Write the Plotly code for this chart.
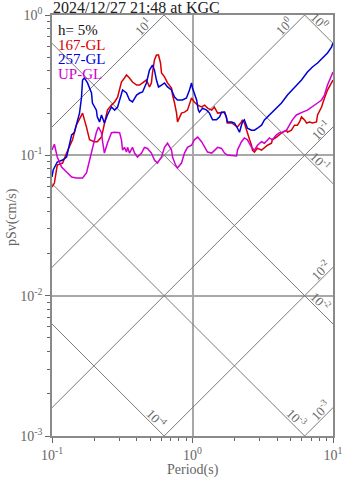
import math
import plotly.graph_objects as go

# ---------------- data ----------------
period_167 = [0.100, 0.104, 0.109, 0.119, 0.127, 0.133, 0.140, 0.149, 0.162, 0.165,
              0.176, 0.185, 0.200, 0.210, 0.225, 0.236, 0.248, 0.265, 0.279, 0.293,
              0.312, 0.328, 0.339, 0.356, 0.374, 0.400, 0.420, 0.441, 0.470, 0.494,
              0.510, 0.519, 0.536, 0.554, 0.573, 0.592, 0.602, 0.632, 0.664, 0.709,
              0.721, 0.745, 0.770, 0.782, 0.808, 0.835, 0.877, 0.921, 0.984, 1.03,
              1.09, 1.16, 1.22, 1.28, 1.37, 1.43, 1.51, 1.61, 1.69, 1.74,
              1.77, 1.90, 1.99, 2.09, 2.23, 2.27, 2.34, 2.42, 2.46, 2.55,
              2.63, 2.67, 2.76, 2.90, 3.10, 3.25, 3.42, 3.65, 3.70, 3.96,
              4.16, 4.37, 4.67, 4.74, 5.06, 5.32, 5.58, 5.78, 5.97, 6.27,
              6.48, 6.80, 7.14, 7.63, 7.76, 8.29, 8.70, 9.14, 9.75, 10.0]
psv_167 = [0.0594, 0.0634, 0.0853, 0.0881, 0.1038, 0.114, 0.129, 0.164, 0.194, 0.200,
           0.159, 0.129, 0.125, 0.125, 0.135, 0.164, 0.210, 0.228, 0.240, 0.260,
           0.333, 0.356, 0.374, 0.356, 0.333, 0.317, 0.317, 0.328, 0.344, 0.307,
           0.328, 0.387, 0.478, 0.519, 0.519, 0.455, 0.387, 0.362, 0.328, 0.302,
           0.269, 0.236, 0.200, 0.173, 0.185, 0.200, 0.203, 0.210, 0.256, 0.240,
           0.228, 0.221, 0.228, 0.217, 0.210, 0.221, 0.200, 0.203, 0.203, 0.188,
           0.170, 0.170, 0.164, 0.159, 0.173, 0.179, 0.170, 0.151, 0.140, 0.129,
           0.118, 0.109, 0.1055, 0.1125, 0.109, 0.114, 0.118, 0.122, 0.129, 0.135,
           0.140, 0.146, 0.151, 0.146, 0.151, 0.164, 0.164, 0.173, 0.188, 0.179,
           0.170, 0.173, 0.170, 0.173, 0.194, 0.221, 0.256, 0.292, 0.328, 0.344]

period_257 = [0.100, 0.102, 0.109, 0.119, 0.127, 0.133, 0.138, 0.144, 0.149, 0.157,
              0.162, 0.165, 0.170, 0.179, 0.191, 0.194, 0.207, 0.210, 0.218, 0.225,
              0.236, 0.248, 0.265, 0.279, 0.293, 0.312, 0.318, 0.339, 0.356, 0.374,
              0.400, 0.420, 0.441, 0.470, 0.494, 0.519, 0.536, 0.554, 0.573, 0.602,
              0.632, 0.664, 0.709, 0.745, 0.782, 0.849, 0.906, 0.952, 0.984, 1.00,
              1.07, 1.10, 1.12, 1.18, 1.26, 1.32, 1.39, 1.48, 1.56, 1.61,
              1.69, 1.74, 1.77, 1.90, 1.99, 2.09, 2.16, 2.23, 2.27, 2.34,
              2.42, 2.46, 2.63, 2.76, 2.90, 3.10, 3.25, 3.53, 3.83, 4.30,
              4.74, 5.32, 5.97, 6.58, 7.14, 7.76, 8.42, 9.14, 9.75, 10.0]
psv_257 = [0.0701, 0.0786, 0.0896, 0.0926, 0.0973, 0.122, 0.140, 0.145, 0.164, 0.200,
           0.256, 0.344, 0.356, 0.328, 0.278, 0.236, 0.210, 0.188, 0.173, 0.194,
           0.170, 0.194, 0.221, 0.210, 0.221, 0.278, 0.292, 0.278, 0.248, 0.240,
           0.269, 0.278, 0.283, 0.328, 0.405, 0.440, 0.405, 0.344, 0.307, 0.317,
           0.328, 0.307, 0.292, 0.260, 0.248, 0.248, 0.256, 0.292, 0.328, 0.302,
           0.248, 0.210, 0.203, 0.217, 0.210, 0.200, 0.179, 0.179, 0.188, 0.203,
           0.203, 0.188, 0.173, 0.173, 0.170, 0.156, 0.146, 0.164, 0.173, 0.179,
           0.159, 0.156, 0.151, 0.151, 0.156, 0.164, 0.179, 0.194, 0.210, 0.236,
           0.269, 0.302, 0.344, 0.392, 0.426, 0.455, 0.494, 0.536, 0.591, 0.631]

period_up = [0.100, 0.104, 0.109, 0.117, 0.127, 0.138, 0.149, 0.165, 0.176, 0.185,
             0.194, 0.207, 0.214, 0.225, 0.229, 0.236, 0.248, 0.265, 0.279, 0.293,
             0.303, 0.312, 0.318, 0.328, 0.339, 0.345, 0.356, 0.374, 0.387, 0.406,
             0.434, 0.455, 0.478, 0.510, 0.536, 0.563, 0.602, 0.632, 0.664, 0.709,
             0.721, 0.757, 0.782, 0.835, 0.877, 0.921, 0.984, 1.03, 1.09, 1.16,
             1.22, 1.28, 1.37, 1.43, 1.51, 1.61, 1.69, 1.77, 2.06, 2.09,
             2.23, 2.34, 2.46, 2.63, 2.76, 2.90, 3.10, 3.25, 3.53, 3.70,
             3.96, 4.16, 4.37, 4.67, 4.90, 5.14, 5.49, 5.78, 6.07, 6.58,
             7.14, 7.76, 8.29, 8.70, 9.14, 9.75, 10.0]
psv_up = [0.109, 0.120, 0.0973, 0.0825, 0.0760, 0.0701, 0.0689, 0.0689, 0.0748, 0.0926,
          0.114, 0.146, 0.159, 0.145, 0.125, 0.1038, 0.122, 0.145, 0.146, 0.146,
          0.145, 0.129, 0.109, 0.114, 0.1055, 0.114, 0.1038, 0.114, 0.1038, 0.0973,
          0.1038, 0.114, 0.112, 0.1038, 0.0926, 0.0881, 0.0973, 0.114, 0.122, 0.109,
          0.0973, 0.0853, 0.0812, 0.0881, 0.1038, 0.114, 0.118, 0.129, 0.135, 0.125,
          0.114, 0.1055, 0.1038, 0.109, 0.114, 0.112, 0.1038, 0.1005, 0.0989, 0.109,
          0.125, 0.133, 0.129, 0.114, 0.109, 0.118, 0.125, 0.122, 0.133, 0.129,
          0.140, 0.145, 0.146, 0.151, 0.164, 0.179, 0.194, 0.200, 0.203, 0.210,
          0.221, 0.236, 0.248, 0.269, 0.317, 0.362, 0.392]

series_names = ["167-GL", "257-GL", "UP-GL"]
series_colors = ["#d80000", "#0000d8", "#d000d0"]

disp_levels = [1e-4, 1e-3, 1e-2, 1e-1, 1]   # Sd (cm), lines of slope -1
acc_levels = [1e-3, 1e-2, 1e-1, 1, 10]      # Sa (cm/s^2), lines of slope +1

x_tick_vals = [0.1, 1, 10]
x_tick_text = ["10<sup>-1</sup>", "10<sup>0</sup>", "10<sup>1</sup>"]
y_tick_vals = [0.001, 0.01, 0.1, 1]
y_tick_text = ["10<sup>-3</sup>", "10<sup>-2</sup>", "10<sup>-1</sup>", "10<sup>0</sup>"]

title_text = "2024/12/27 21:48 at KGC"
damping_text = "h= 5%"
x_title = "Period(s)"
y_title = "pSv(cm/s)"

T_MIN, T_MAX = 0.1, 10.0
V_MIN, V_MAX = 0.001, 1.0

FONT = "Liberation Serif, Times New Roman, serif"
GRAY = "#666666"
PLOT_W = 281.0
PLOT_H = 421.0

fig = go.Figure()

# ---- tripartite diagonal lines ----
TWO_PI = 2 * math.pi
u0, u1 = math.log10(T_MIN), math.log10(T_MAX)
v0, v1 = math.log10(V_MIN), math.log10(V_MAX)
diag_style = dict(color="#7a7a7a", width=1)

def sup(e):
    return "10<sup>%d</sup>" % e

annotations = []
for sd in disp_levels:
    c = math.log10(TWO_PI * sd)           # v = c - u
    fig.add_trace(go.Scatter(x=[T_MIN, T_MAX], y=[TWO_PI * sd / T_MIN, TWO_PI * sd / T_MAX],
                             mode="lines", line=diag_style, hoverinfo="skip", showlegend=False))
    if c - u1 >= v0:
        ul = u1 - 0.09
    else:
        ul = (c - v0) - 0.055
    vl = c - ul
    annotations.append(dict(x=ul, y=vl, xref="x", yref="y", text=sup(round(math.log10(sd))),
                            showarrow=False, textangle=45, yshift=10,
                            font=dict(family=FONT, size=13, color=GRAY)))
for sa in acc_levels:
    c = math.log10(sa / TWO_PI)           # v = c + u
    fig.add_trace(go.Scatter(x=[T_MIN, T_MAX], y=[sa * T_MIN / TWO_PI, sa * T_MAX / TWO_PI],
                             mode="lines", line=diag_style, hoverinfo="skip", showlegend=False))
    if c + u1 <= v1:
        ul = u1 - 0.09
    else:
        ul = (v1 - c) - 0.15
    vl = c + ul
    annotations.append(dict(x=ul, y=vl, xref="x", yref="y", text=sup(round(math.log10(sa))),
                            showarrow=False, textangle=-45, yshift=10,
                            font=dict(family=FONT, size=13, color=GRAY)))

# ---- response spectra ----
for per, psv, name, col in [(period_167, psv_167, series_names[0], series_colors[0]),
                            (period_257, psv_257, series_names[1], series_colors[1]),
                            (period_up, psv_up, series_names[2], series_colors[2])]:
    fig.add_trace(go.Scatter(x=per, y=psv, mode="lines", name=name,
                             line=dict(color=col, width=1.5), showlegend=False))

# ---- legend-like texts ----
legend_items = [(damping_text, "#111111")] + list(zip(series_names, series_colors))
for i, (txt, col) in enumerate(legend_items):
    annotations.append(dict(x=0.018, y=1 - (15 + 14.5 * i) / PLOT_H, xref="paper", yref="paper",
                            xanchor="left", yanchor="middle", text=txt, showarrow=False,
                            borderpad=0,
                            font=dict(family=FONT, size=15, color=col)))

annotations.append(dict(x=0.0, y=1 + 7 / PLOT_H, xref="paper", yref="paper",
                        xanchor="left", yanchor="middle", text=title_text, showarrow=False,
                        borderpad=0,
                        font=dict(family=FONT, size=16, color="#222222")))

# axis titles placed as annotations
annotations.append(dict(x=0.5, y=-34 / PLOT_H, xref="paper", yref="paper",
                        xanchor="center", yanchor="middle", text=x_title, showarrow=False,
                        borderpad=0, font=dict(family=FONT, size=14, color=GRAY)))
annotations.append(dict(x=-40 / PLOT_W, y=0.52, xref="paper", yref="paper",
                        xanchor="center", yanchor="middle", text=y_title, showarrow=False,
                        textangle=-90, borderpad=0,
                        font=dict(family=FONT, size=14, color=GRAY)))

axis_common = dict(
    type="log", tickmode="array",
    showline=True, mirror=True, linecolor="#8a8a8a", linewidth=1.5,
    showgrid=True, gridcolor="#a8a8a8", gridwidth=1.5,
    ticks="outside", ticklen=5, tickcolor="#666666", tickwidth=1,
    tickfont=dict(family=FONT, size=14, color=GRAY),
    minor=dict(ticks="outside", ticklen=3, tickcolor="#666666", dtick="D1", showgrid=False),
    zeroline=False, automargin=False,
)

fig.update_layout(
    width=347, height=478,
    margin=dict(l=52, r=14, t=15, b=42),
    paper_bgcolor="white", plot_bgcolor="white",
    xaxis=dict(axis_common, range=[u0, u1], tickvals=x_tick_vals, ticktext=x_tick_text),
    yaxis=dict(axis_common, range=[v0, v1], tickvals=y_tick_vals, ticktext=y_tick_text),
    annotations=annotations,
    showlegend=False,
)

fig.write_html("out.html")
